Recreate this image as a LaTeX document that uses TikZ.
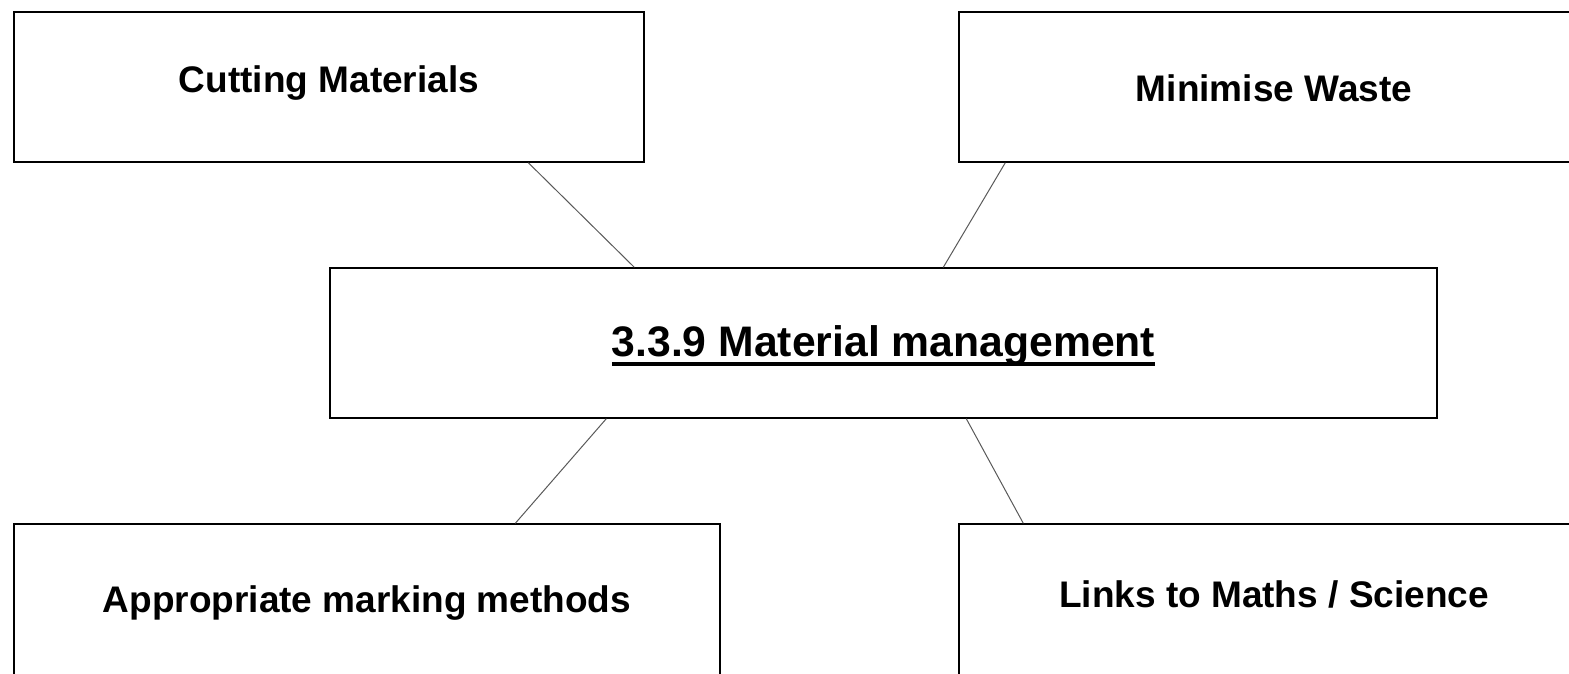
\documentclass[tikz,border=0pt]{standalone}
\usepackage{fontspec}
\setmainfont{Liberation Sans}
\usetikzlibrary{calc}

\newcommand{\thickul}[1]{\setbox0\hbox{#1}\rlap{\vrule height -6pt depth 10pt width \wd0}\box0}

\tikzset{
  topic/.style={draw=black, line width=1.4pt, fill=white, inner sep=0pt,
    text depth=0pt, text height=26pt,
    font=\fontsize{37}{44}\selectfont\bfseries},
  link/.style={draw=black!65, line width=1pt}
}

\begin{document}
\begin{tikzpicture}[x=1pt, y=-1pt]
\useasboundingbox (0,0) rectangle (1569,673);
\clip (0,0) rectangle (1569,673);
% Boxes
\node[topic, minimum width=630pt, minimum height=150pt, text height=10pt] (cut) at (329,87) {Cutting Materials};
\node[topic, minimum width=630pt, minimum height=150pt, text height=28pt] (waste) at (1274,87) {Minimise Waste};
\node[topic, minimum width=1107pt, minimum height=150pt, font=\fontsize{42.7}{50}\selectfont\bfseries] (main) at (883.5,343) {\thickul{3.3.9 Material management}};
\node[topic, minimum width=706pt, minimum height=160pt, text height=16pt] (mark) at (367,604) {Appropriate marking methods};
\node[topic, minimum width=630pt, minimum height=160pt, text height=6pt] (maths) at (1274,604) {Links to Maths / Science};
% Connectors
\draw[link] ($(cut.south west)+(515,0)$) -- ($(main.north west)+(305,0)$);
\draw[link] ($(waste.south west)+(47,0)$) -- ($(main.north west)+(614,0)$);
\draw[link] ($(main.south west)+(277,0)$) -- ($(mark.north west)+(502,0)$);
\draw[link] ($(main.south west)+(637,0)$) -- ($(maths.north west)+(65,0)$);
\end{tikzpicture}
\end{document}
